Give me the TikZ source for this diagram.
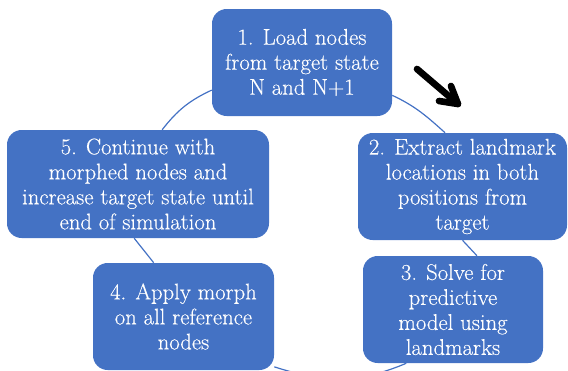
\documentclass[tikz,border=0pt]{standalone}
\usepackage{fontspec}
\newfontfamily\boxfont{Latin Modern Roman}[FakeBold=0.3]
\definecolor{boxblue}{HTML}{4472C4}
\tikzset{
  cyclebox/.style={draw=none, fill=boxblue, rounded corners=11pt, inner sep=0pt,
    text=white, align=center, font=\boxfont\fontsize{17pt}{18.75pt}\selectfont},
  cyclearc/.style={draw=boxblue, line width=0.9pt},
  bigarrow/.style={draw=black, line width=5pt, line cap=round, line join=round}
}
\begin{document}
\begin{tikzpicture}[x=0.75pt, y=0.75pt]
  \clip (0,0) rectangle (568,-371);
  % cycle steps
  \node[cyclebox, minimum width=180*0.75pt, minimum height=107*0.75pt] (n1) at (302,-62.5)
    {1. Load nodes\\from target state\\N and N+1};
  \node[cyclebox, minimum width=209*0.75pt, minimum height=107*0.75pt] (n2) at (462.5,-186.5)
    {2. Extract landmark\\locations in both\\positions from\\target};
  \node[cyclebox, minimum width=180*0.75pt, minimum height=107*0.75pt] (n3) at (453,-309.5)
    {3. Solve for\\predictive\\model using\\landmarks};
  \node[cyclebox, minimum width=181*0.75pt, minimum height=107*0.75pt] (n4) at (183.5,-316.5)
    {4. Apply morph\\on all reference\\nodes};
  \node[cyclebox, minimum width=262*0.75pt, minimum height=108*0.75pt] (n5) at (138,-184)
    {5. Continue with\\morphed nodes and\\increase target state until\\end of simulation};
  % connecting arcs of the cycle
  \draw[cyclearc] (n5.66) to[out=52, in=205] (n1.197);
  \draw[cyclearc] (n1.-20) to[out=-25, in=138] (n2.108);
  \draw[cyclearc] (n2.-90) -- (n3.66);
  \draw[cyclearc] (n3.229) to[out=203, in=-18] (n4.-29);
  \draw[cyclearc] (n4.119) -- (n5.-94);
  % pointer arrow
  \coordinate (arrTail) at (417,-69);
  \coordinate (arrTip) at (458,-104);
  \coordinate (arrW1) at (451,-86);
  \coordinate (arrW2) at (439,-101);
  \draw[bigarrow] (arrTail) -- (arrTip);
  \draw[bigarrow] (arrW1) -- (arrTip) -- (arrW2);
\end{tikzpicture}
\end{document}
